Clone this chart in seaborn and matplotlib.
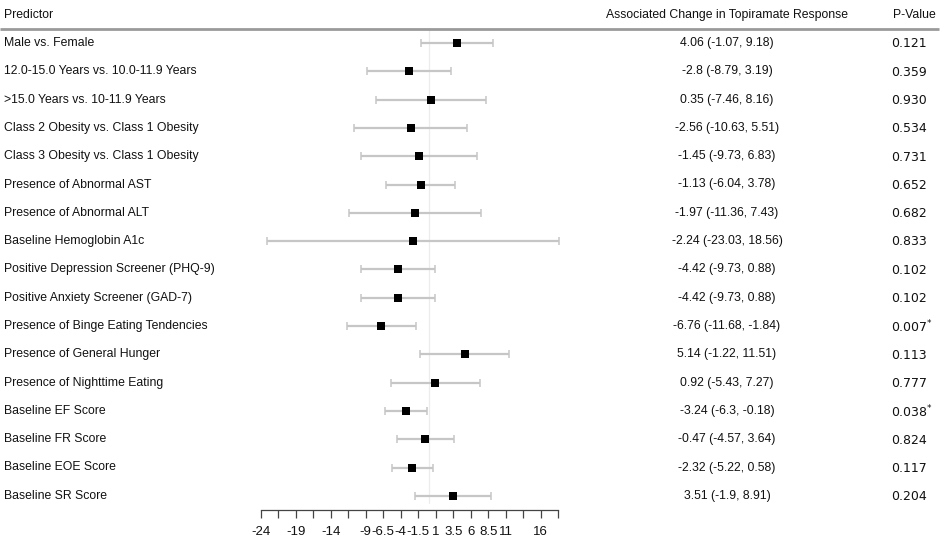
import numpy as np
import pandas as pd
import matplotlib
matplotlib.use("Agg")
import matplotlib.pyplot as plt
import matplotlib.transforms as mtransforms
import seaborn as sns

predictors = [
    "Male vs. Female",
    "12.0-15.0 Years vs. 10.0-11.9 Years",
    ">15.0 Years vs. 10-11.9 Years",
    "Class 2 Obesity vs. Class 1 Obesity",
    "Class 3 Obesity vs. Class 1 Obesity",
    "Presence of Abnormal AST",
    "Presence of Abnormal ALT",
    "Baseline Hemoglobin A1c",
    "Positive Depression Screener (PHQ-9)",
    "Positive Anxiety Screener (GAD-7)",
    "Presence of Binge Eating Tendencies",
    "Presence of General Hunger",
    "Presence of Nighttime Eating",
    "Baseline EF Score",
    "Baseline FR Score",
    "Baseline EOE Score",
    "Baseline SR Score",
]
estimates = [4.06, -2.8, 0.35, -2.56, -1.45, -1.13, -1.97, -2.24, -4.42, -4.42,
             -6.76, 5.14, 0.92, -3.24, -0.47, -2.32, 3.51]
ci_low = [-1.07, -8.79, -7.46, -10.63, -9.73, -6.04, -11.36, -23.03, -9.73, -9.73,
          -11.68, -1.22, -5.43, -6.3, -4.57, -5.22, -1.9]
ci_high = [9.18, 3.19, 8.16, 5.51, 6.83, 3.78, 7.43, 18.56, 0.88, 0.88,
           -1.84, 11.51, 7.27, -0.18, 3.64, 0.58, 8.91]
p_values = ["0.121", "0.359", "0.930", "0.534", "0.731", "0.652", "0.682", "0.833",
            "0.102", "0.102", "0.007", "0.113", "0.777", "0.038", "0.824", "0.117", "0.204"]
significant = [False, False, False, False, False, False, False, False,
               False, False, True, False, False, True, False, False, False]
tick_values = list(np.arange(-24, 18.5 + 0.01, 2.5))
tick_labels = ["-24", "", "-19", "", "-14", "", "-9", "-6.5", "-4", "-1.5", "1",
               "3.5", "6", "8.5", "11", "", "16", ""]

df = pd.DataFrame({
    "predictor": predictors,
    "est": estimates,
    "lo": ci_low,
    "hi": ci_high,
    "row": np.arange(len(predictors)),
})

sns.set_style("white")
plt.rcParams["font.family"] = ["Liberation Sans", "DejaVu Sans"]

W, H = 945, 547
fig = plt.figure(figsize=(W / 100, H / 100), dpi=100)
ax_bottom_px = 510
row0_px, row_step = 43.0, 28.3
ax = fig.add_axes([0, (H - ax_bottom_px) / H, 1, ax_bottom_px / H])

zero_px, ppu = 428.7, 7.0
ax.set_xlim(-zero_px / ppu, (W - zero_px) / ppu)
ax.set_ylim((ax_bottom_px - row0_px) / row_step, -row0_px / row_step)

# reference line at 0
y_head = (28.5 - row0_px) / row_step
y_end = (503 - row0_px) / row_step
ax.plot([0, 0], [y_head, y_end], color="#ececec", lw=0.9, zorder=0)

# confidence intervals
ax.errorbar(df["est"], df["row"],
            xerr=[df["est"] - df["lo"], df["hi"] - df["est"]],
            fmt="none", ecolor="#c6c6c6", elinewidth=1.6, capsize=3.0,
            capthick=1.1, zorder=1)
sns.scatterplot(data=df, x="est", y="row", marker="s", s=38, color="black",
                edgecolor="black", linewidth=0, ax=ax, zorder=3, legend=False)

# header line
ax.plot([-zero_px / ppu, (939 - zero_px) / ppu], [y_head, y_head],
        color="#9a9a9a", lw=2.0, clip_on=False, solid_capstyle="butt")

# axis styling
for s in ["top", "left", "right"]:
    ax.spines[s].set_visible(False)
ax.spines["bottom"].set_bounds(-24, 18.5)
ax.spines["bottom"].set_color("#444444")
ax.spines["bottom"].set_linewidth(0.9)
ax.set_xticks(tick_values)
ax.set_xticklabels(tick_labels)
ax.tick_params(axis="x", direction="out", length=5.5, width=0.9, color="#444444",
               pad=6, labelsize=9.5, labelcolor="#111111", bottom=True)
ax.set_yticks([])
ax.set_xlabel("")
ax.set_ylabel("")

# text columns
FS = 8.8
tr = mtransforms.blended_transform_factory(fig.transFigure, ax.transData)
y_hdr_text = (15 - row0_px) / row_step
ax.text(4 / W, y_hdr_text, "Predictor", transform=tr, ha="left", va="center",
        fontsize=FS, color="#111111")
ax.text(727 / W, y_hdr_text, "Associated Change in Topiramate Response",
        transform=tr, ha="center", va="center", fontsize=FS, color="#111111")
ax.text(893 / W, y_hdr_text, "P-Value", transform=tr, ha="left", va="center",
        fontsize=FS, color="#111111")

for i, r in df.iterrows():
    ax.text(4 / W, r["row"], r["predictor"], transform=tr, ha="left",
            va="center", fontsize=FS, color="#111111")
    ax.text(727 / W, r["row"], f"{r['est']} ({r['lo']}, {r['hi']})",
            transform=tr, ha="center", va="center", fontsize=FS, color="#111111")
    label = p_values[i] + (r"$^{*}$" if significant[i] else "")
    ax.text(891 / W, r["row"] + 0.03, label, transform=tr, ha="left",
            va="center_baseline" if False else "center", fontsize=9,
            color="#111111", family=["DejaVu Sans"])

fig.savefig("out.png", dpi=100)
